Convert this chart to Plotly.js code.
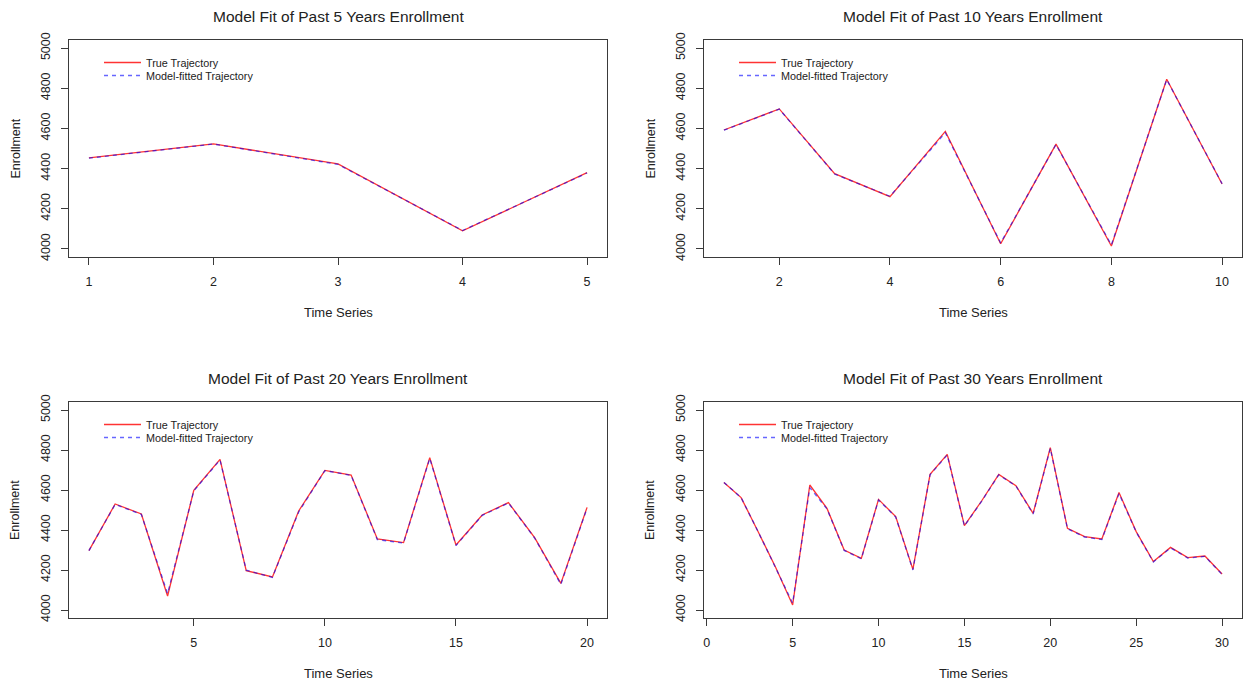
<!DOCTYPE html>
<html>
<head>
<meta charset="utf-8">
<script src="https://cdn.plot.ly/plotly-3.0.1.min.js"></script>
<style>
html,body{margin:0;padding:0;background:#fff;}
#chart{width:1245px;height:685px;}
</style>
</head>
<body>
<div id="chart"></div>
<script>
// ---- data ----
const panelTitles = [
  "Model Fit of Past 5 Years Enrollment",
  "Model Fit of Past 10 Years Enrollment",
  "Model Fit of Past 20 Years Enrollment",
  "Model Fit of Past 30 Years Enrollment"
];
const seriesNames = ["True Trajectory", "Model-fitted Trajectory"];

const true5   = [4453, 4523, 4423, 4090, 4380];
const fitted5 = [4452, 4522, 4421, 4092, 4378];

const true10   = [4592, 4697, 4375, 4260, 4585, 4026, 4522, 4015, 4845, 4323];
const fitted10 = [4591, 4696, 4373, 4262, 4578, 4030, 4520, 4020, 4843, 4325];

const true20   = [4297, 4530, 4480, 4070, 4598, 4753, 4197, 4165, 4495, 4698,
                  4675, 4355, 4337, 4762, 4325, 4475, 4537, 4362, 4133, 4513];
const fitted20 = [4297, 4528, 4478, 4082, 4596, 4750, 4199, 4163, 4490, 4697,
                  4673, 4352, 4335, 4758, 4322, 4473, 4535, 4360, 4128, 4510];

const true30   = [4638, 4562, 4390, 4215, 4025, 4625, 4508, 4300, 4258, 4553,
                  4467, 4203, 4678, 4778, 4422, 4545, 4678, 4622, 4483, 4812,
                  4408, 4367, 4355, 4587, 4392, 4242, 4313, 4262, 4270, 4180];
const fitted30 = [4638, 4562, 4390, 4215, 4035, 4612, 4505, 4298, 4256, 4550,
                  4465, 4200, 4676, 4775, 4420, 4543, 4676, 4620, 4480, 4808,
                  4406, 4365, 4352, 4582, 4390, 4240, 4311, 4260, 4268, 4178];

const xTicks = [[1,2,3,4,5],[2,4,6,8,10],[5,10,15,20],[0,5,10,15,20,25,30]];
const yTicks = [4000, 4200, 4400, 4600, 4800, 5000];
const trueSeries = [true5, true10, true20, true30];
const fittedSeries = [fitted5, fitted10, fitted20, fitted30];

// ---- layout geometry (pixels) ----
const W = 1245, H = 685;
const boxes = [
  {l: 69,  r: 607,  t: 40,  b: 257},
  {l: 704, r: 1242, t: 40,  b: 257},
  {l: 69,  r: 607,  t: 402, b: 618},
  {l: 704, r: 1242, t: 402, b: 618}
];
const font = "Liberation Sans, Arial, sans-serif";
const ink = "#222222";
const frame = "#3a3a3a";

const data = [];
const layout = {
  width: W, height: H,
  margin: {l: 0, r: 0, t: 0, b: 0},
  paper_bgcolor: "#ffffff",
  plot_bgcolor: "#ffffff",
  font: {family: font, color: ink, size: 12},
  annotations: [],
  showlegend: true
};

function legendBox(bx, dy) {
  return {
    x: (bx.l + 30) / W, y: 1 - (bx.t + dy) / H,
    xanchor: "left", yanchor: "top",
    bgcolor: "rgba(0,0,0,0)", borderwidth: 0,
    itemwidth: 37,
    font: {family: font, size: 10.8, color: ink}
  };
}

boxes.forEach((bx, i) => {
  const n = i + 1;
  const xa = n === 1 ? "x" : "x" + n;
  const ya = n === 1 ? "y" : "y" + n;
  const xKey = n === 1 ? "xaxis" : "xaxis" + n;
  const yKey = n === 1 ? "yaxis" : "yaxis" + n;
  const legA = n === 1 ? "legend" : "legend" + n;
  const legB = "legend" + (n + 4);
  const xs = trueSeries[i].map((_, k) => k + 1);
  const N = xs.length;
  const pad = (N - 1) * 0.04;

  data.push({
    x: xs, y: trueSeries[i], type: "scatter", mode: "lines",
    name: seriesNames[0], xaxis: xa, yaxis: ya, legend: legA,
    line: {color: "rgba(255,0,0,0.8)", width: 1.3}
  });
  data.push({
    x: xs, y: fittedSeries[i], type: "scatter", mode: "lines",
    name: seriesNames[1], xaxis: xa, yaxis: ya, legend: legB,
    line: {color: "rgba(0,0,255,0.6)", width: 1.3, dash: "4px,4px"}
  });

  layout[xKey] = {
    domain: [bx.l / W, bx.r / W],
    anchor: ya,
    range: [1 - pad, N + pad],
    tickmode: "array", tickvals: xTicks[i], ticktext: xTicks[i].map(String),
    ticks: "outside", ticklen: 7, tickwidth: 1, tickcolor: frame,
    ticklabelstandoff: 6,
    showline: true, mirror: true, linecolor: frame, linewidth: 1.3,
    showgrid: false, zeroline: false,
    tickfont: {family: font, size: 12.5, color: ink}
  };
  layout[yKey] = {
    domain: [1 - bx.b / H, 1 - bx.t / H],
    anchor: xa,
    range: [3960, 5040],
    tickmode: "array", tickvals: yTicks, ticktext: yTicks.map(String),
    tickangle: -90,
    ticks: "outside", ticklen: 7, tickwidth: 1, tickcolor: frame,
    ticklabelstandoff: 6,
    showline: true, mirror: true, linecolor: frame, linewidth: 1.3,
    showgrid: false, zeroline: false,
    tickfont: {family: font, size: 12.5, color: ink}
  };
  layout[legA] = legendBox(bx, 8);
  layout[legB] = legendBox(bx, 21);

  // subplot title
  layout.annotations.push({
    text: panelTitles[i], showarrow: false,
    xref: xa + " domain", x: 0.5, xanchor: "center",
    yref: "paper", y: 1 - (bx.t - 24) / H, yanchor: "middle",
    font: {family: font, size: 15.5, color: ink}
  });
  // x axis title
  layout.annotations.push({
    text: "Time Series", showarrow: false,
    xref: xa + " domain", x: 0.5, xanchor: "center",
    yref: ya + " domain", y: 0, yanchor: "middle", yshift: -55,
    font: {family: font, size: 13, color: ink}
  });
  // y axis title
  layout.annotations.push({
    text: "Enrollment", showarrow: false, textangle: -90,
    xref: xa + " domain", x: 0, xanchor: "center", xshift: -54,
    yref: ya + " domain", y: 0.5, yanchor: "middle",
    font: {family: font, size: 12.5, color: ink}
  });
});

Plotly.newPlot("chart", data, layout, {displayModeBar: false, staticPlot: true});
</script>
</body>
</html>
